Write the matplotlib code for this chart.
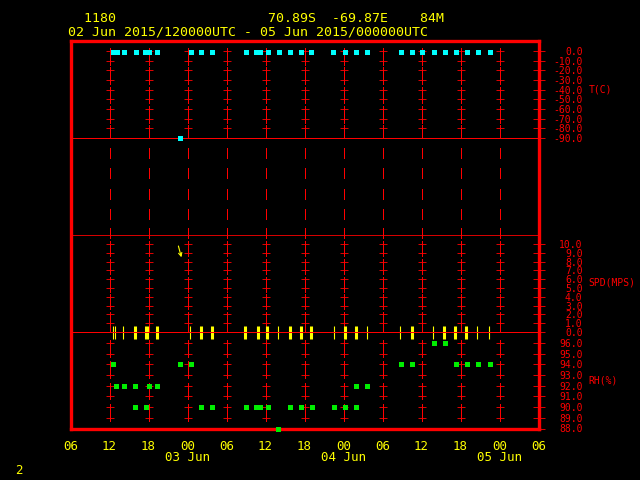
import matplotlib
matplotlib.use("Agg")
import matplotlib.pyplot as plt
import numpy as np

# time in hours after 02 Jun 2015 12UTC
temp_hours = [0.52, 1.13, 2.25, 4.05, 5.43, 6.04, 7.38, 10.8, 12.48, 14.13, 15.81,
              21.03, 22.6, 23.2, 24.34, 26.03, 27.71, 29.46, 31.04, 34.46, 36.26,
              37.94, 39.59, 44.8, 46.58, 48.02, 49.9, 51.6, 53.28, 55.0, 56.7, 58.5]
temp_vals = [-1.0] * 7 + [-90.0] + [-1.0] * 24

wind_hours = [0.48, 0.87, 2.1, 3.9, 5.58, 5.94, 7.27, 12.38, 14.0, 15.7, 20.9,
              22.8, 24.2, 25.9, 27.7, 29.4, 31.0, 34.5, 36.2, 37.9, 39.6, 44.7,
              46.5, 49.8, 51.5, 53.2, 54.9, 56.6, 58.4]
wind_spd = [0.0] * len(wind_hours)
wind_thick = [0, 0, 0, 1, 1, 0, 1, 0, 1, 1, 1, 1, 1, 0, 1, 1, 1, 0, 1, 1, 0, 0,
              1, 0, 1, 1, 1, 0, 0]
# the one wind arrow drawn in the speed panel
arrow_time = [10.6, 11.06]
arrow_spd = [9.77, 8.49]

rh_hours = [0.48, 0.98, 2.2, 3.9, 3.9, 5.6, 6.0, 7.3, 10.8, 12.5, 14.06, 15.75,
            20.97, 22.6, 23.2, 24.34, 25.9, 27.7, 29.4, 31.1, 34.57, 36.26, 37.95,
            37.95, 39.63, 44.85, 46.58, 49.9, 51.64, 53.33, 55.0, 56.7, 58.5]
rh_vals = [94, 92, 92, 92, 90, 90, 92, 92, 94, 94, 90, 90,
           90, 90, 90, 90, 88, 90, 90, 90, 90, 90, 90,
           92, 92, 94, 94, 96, 96, 94, 94, 94, 94]

time_ticks = list(range(-6, 67, 6))
time_labels = ["06", "12", "18", "00", "06", "12", "18", "00", "06", "12", "18", "00", "06"]
day_ticks = [12, 36, 60]
day_labels = ["03 Jun", "04 Jun", "05 Jun"]

t_levels = list(range(0, -91, -10))
w_levels = list(range(0, 11))
rh_levels = list(range(88, 97))

RED = "#ff0000"
YEL = "#ffff00"
MONO = "DejaVu Sans Mono"
LW = 0.62

fig = plt.figure(figsize=(6.4, 4.8), dpi=100, facecolor="black")


def px_axes(x0, y_top, x1, y_bot):
    return fig.add_axes([x0 / 640, 1 - y_bot / 480, (x1 - x0) / 640, (y_bot - y_top) / 480])


# 39 px per 6 hours so the grid lines land on pixel centres
X0, X1 = 70.5, 538.5

# outer frame with time axis
frame = px_axes(X0, 41, X1, 428.5)
frame.set_facecolor("black")
frame.set_xlim(-6, 66)
frame.set_ylim(0, 1)
for s in frame.spines.values():
    s.set_color(RED)
    s.set_linewidth(2.4)
frame.set_yticks([])
frame.set_xticks(time_ticks)
frame.set_xticklabels(time_labels, family=MONO, fontsize=9, color=YEL)
frame.tick_params(axis="x", length=0, pad=8)
for t, lab in zip(day_ticks, day_labels):
    frame.annotate(lab, xy=(t, 0), xycoords=("data", "axes fraction"),
                   xytext=(0, -21), textcoords="offset points",
                   ha="center", va="center", family=MONO, fontsize=9, color=YEL)

grid_hours = time_ticks[1:-1]


def panel(y_top, y_bot, lo, hi, levels, labels, pairs, step, name, name_y):
    ax = px_axes(X0, y_top, X1, y_bot)
    ax.patch.set_alpha(0)
    ax.set_xlim(-6, 66)
    ax.set_ylim(lo, hi)
    for s in ax.spines.values():
        s.set_visible(False)
    ax.set_xticks([])
    ax.yaxis.tick_right()
    ax.set_yticks(levels)
    ax.set_yticklabels(labels, family=MONO, fontsize=7, color=RED)
    ax.tick_params(axis="y", direction="inout", length=8.6, width=LW,
                   color=RED, pad=27.4)
    for lab in ax.get_yticklabels():
        lab.set_horizontalalignment("right")
    # vertical grid: pairs of crosses joined by a short line
    for a, b, top, bot in pairs:
        ax.vlines(grid_hours, bot, top, colors=RED, linewidth=LW,
                  antialiased=False, clip_on=False)
    cross = [lv for lv in levels if lv != lo and lv <= hi - step * 0.5]
    for h in grid_hours:
        ax.plot([h] * len(cross), cross, "_", color=RED, ms=5.5, mew=LW,
                antialiased=False)
    ax.annotate(name, xy=(1, name_y), xycoords=("axes fraction", "data"),
                xytext=(36, 0), textcoords="offset points", ha="left",
                va="center", family=MONO, fontsize=7, color=RED,
                annotation_clip=False)
    return ax


# temperature panel
t_pairs = []
for k in range(0, 10, 2):
    a, b = t_levels[k], t_levels[k + 1]
    t_pairs.append((a, b, a + 3.0, b - 4.0 if k < 8 else -90))
ax_t = panel(41.33, 138, -90, 10, t_levels, ["%.1f" % v for v in t_levels],
             t_pairs, 10, "T(C)", -40)
ax_t.axhline(-90, color=RED, lw=LW, clip_on=False, antialiased=False)
ax_t.plot(temp_hours, temp_vals, "s", color="#00ffff", ms=3.6, mew=0,
          clip_on=False, zorder=3)

# gap between temperature and wind panels
ax_g = px_axes(X0, 138, X1, 235.2)
ax_g.patch.set_alpha(0)
ax_g.set_xlim(-6, 66)
ax_g.set_ylim(235.2, 138)
ax_g.axis("off")
for y0 in [148, 168, 188.5, 208.5, 228]:
    ax_g.vlines(grid_hours, y0, y0 + 10, colors=RED, linewidth=LW,
                antialiased=False, clip_on=False)

# wind speed panel
w_pairs = []
for top_lv in [10, 8, 6, 4, 2]:
    w_pairs.append((top_lv, top_lv - 1, top_lv + 0.3,
                    top_lv - 1 - 0.4 if top_lv > 2 else 0))
ax_w = panel(235.2, 332, 0, 11, w_levels, ["%.1f" % v for v in w_levels],
             w_pairs, 1, "SPD(MPS)", 5.6)
ax_w.axhline(11, color=RED, lw=0.6, clip_on=False)
ax_w.axhline(0, color=RED, lw=LW, clip_on=False, antialiased=False, zorder=4)
lw_bars = [2.2 if k else 0.8 for k in wind_thick]
ax_w.vlines(wind_hours, np.array(wind_spd) - 0.75, np.array(wind_spd) + 0.7,
            colors=YEL, linewidths=lw_bars, clip_on=False, zorder=3)
ax_w.annotate("", xy=(arrow_time[1], arrow_spd[1]), xytext=(arrow_time[0], arrow_spd[0]),
              arrowprops=dict(arrowstyle="->", color=YEL, lw=0.8,
                              mutation_scale=6, shrinkA=0, shrinkB=0))

# relative humidity panel
rh_pairs = []
for top_lv in [96, 94, 92, 90]:
    rh_pairs.append((top_lv, top_lv - 1, top_lv + 0.3, top_lv - 1 - 0.28))
ax_r = panel(332.25, 428.5, 88, 97, rh_levels, ["%.1f" % v for v in rh_levels],
             rh_pairs, 1, "RH(%)", 92.5)
ax_r.plot(rh_hours, rh_vals, "s", color="#00ee00", ms=3.6, mew=0, clip_on=False, zorder=3)

# headers
line1 = "  1180" + " " * 19 + "70.89S" + "  " + "-69.87E" + "    " + "84M"
line2 = "02 Jun 2015/120000UTC - 05 Jun 2015/000000UTC"
fig.text(68.5 / 640, 1 - 18.5 / 480, line1, family=MONO, fontsize=9.5, color=YEL,
         ha="left", va="center")
fig.text(68.5 / 640, 1 - 31.8 / 480, line2, family=MONO, fontsize=9.5, color=YEL,
         ha="left", va="center")
fig.text(15 / 640, 1 - 471 / 480, "2", family=MONO, fontsize=9, color=YEL,
         ha="left", va="center")

fig.savefig("out.png", dpi=100, facecolor="black")
